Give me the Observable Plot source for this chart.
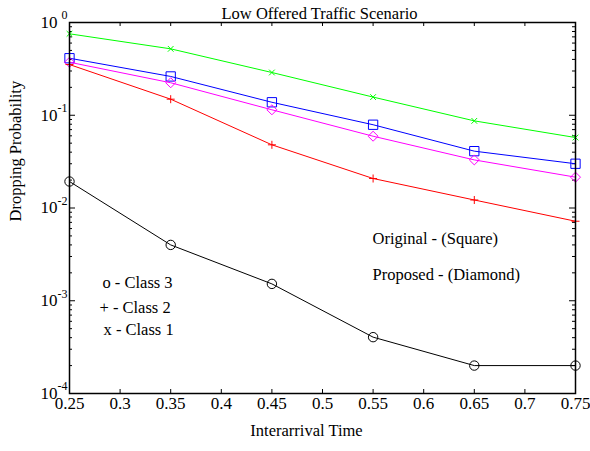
<!DOCTYPE html>
<html>
<head>
<meta charset="utf-8">
<script src="https://cdn.jsdelivr.net/npm/d3@7"></script>
<script src="https://cdn.jsdelivr.net/npm/@observablehq/plot@0.6"></script>
<style>
  html, body { margin: 0; padding: 0; background: #fff; }
  svg { display: block; }
</style>
</head>
<body>
<div id="chart"></div>
<script>
// ---- data ----
const interarrival = [0.25, 0.35, 0.45, 0.55, 0.65, 0.75];
const class1Green = [0.755, 0.52, 0.289, 0.157, 0.087, 0.0575];
const originalBlue = [0.412, 0.262, 0.138, 0.079, 0.041, 0.030];
const proposedMagenta = [0.373, 0.224, 0.1145, 0.0594, 0.033, 0.0215];
const class2Red = [0.352, 0.149, 0.048, 0.0208, 0.0122, 0.0072];
const class3Black = [0.0193, 0.0040, 0.00152, 0.000405, 0.0002, 0.0002];

const xTicks = [0.25, 0.3, 0.35, 0.4, 0.45, 0.5, 0.55, 0.6, 0.65, 0.7, 0.75];
const xTickLabels = ["0.25", "0.3", "0.35", "0.4", "0.45", "0.5", "0.55", "0.6", "0.65", "0.7", "0.75"];
const yTicks = [1, 0.1, 0.01, 0.001, 0.0001];
const yTickExponents = ["0", "-1", "-2", "-3", "-4"];
const yMinorTicks = [0.1, 0.01, 0.001, 0.0001].flatMap(d => [2, 3, 4, 5, 6, 7, 8, 9].map(k => k * d));

const titleText = "Low Offered Traffic Scenario";
const xLabel = "Interarrival Time";
const yLabel = "Dropping Probability";
const notes = [
  {text: "Original - (Square)", x: 0.5494, y: 0.00469},
  {text: "Proposed - (Diamond)", x: 0.5494, y: 0.00192},
  {text: "o - Class 3", x: 0.2826, y: 0.00157},
  {text: "+ - Class 2", x: 0.2796, y: 0.000846},
  {text: "x - Class 1", x: 0.2836, y: 0.00049}
];

const series = [
  {name: "class1", values: class1Green, color: "#00ff00", symbol: "times", r: 2.7},
  {name: "original", values: originalBlue, color: "#0000ff", symbol: "square", r: 5.25},
  {name: "proposed", values: proposedMagenta, color: "#ff00ff", symbol: "diamond2", r: 4.5},
  {name: "class2", values: class2Red, color: "#ff0000", symbol: "plus", r: 2.7},
  {name: "class3", values: class3Black, color: "#000000", symbol: "circle", r: 4.7}
];

const W = 590, H = 451;
const mTop = 22, mBottom = 58, mLeft = 69, mRight = 15;
const plotH = H - mTop - mBottom, plotW = W - mLeft - mRight;
const font = "'Liberation Serif', 'Times New Roman', serif";

const marks = [];
for (const s of series) {
  const rows = interarrival.map((x, i) => ({x, y: s.values[i]}));
  marks.push(Plot.line(rows, {x: "x", y: "y", stroke: s.color, strokeWidth: 1}));
  marks.push(Plot.dot(rows, {x: "x", y: "y", stroke: s.color, fill: "none", symbol: () => s.symbol, r: s.r, strokeWidth: 1}));
}

const chart = Plot.plot({
  width: W,
  height: H,
  marginTop: mTop,
  marginBottom: mBottom,
  marginLeft: mLeft,
  marginRight: mRight,
  style: {fontFamily: font, fontSize: "16px", background: "white", color: "black"},
  x: {domain: [0.25, 0.75], axis: null},
  y: {type: "log", domain: [1e-4, 1], axis: null},
  symbol: {type: "identity"},
  marks: [
    // ticks (inward)
    Plot.tickX(xTicks, {x: d => d, insetTop: plotH - 4, stroke: "black", strokeWidth: 1}),
    Plot.tickX(xTicks, {x: d => d, insetBottom: plotH - 4, stroke: "black", strokeWidth: 1}),
    Plot.tickY(yTicks, {y: d => d, insetRight: plotW - 6, stroke: "black", strokeWidth: 1}),
    Plot.tickY(yTicks, {y: d => d, insetLeft: plotW - 6, stroke: "black", strokeWidth: 1}),
    Plot.tickY(yMinorTicks, {y: d => d, insetRight: plotW - 3, stroke: "black", strokeWidth: 1}),
    Plot.tickY(yMinorTicks, {y: d => d, insetLeft: plotW - 3, stroke: "black", strokeWidth: 1}),
    ...marks,
    Plot.frame({stroke: "black", strokeWidth: 1.5}),
    // tick labels
    Plot.text(xTicks, {x: d => d, frameAnchor: "bottom", dy: 15, text: (d, i) => xTickLabels[i], fontSize: 17}),
    Plot.text(yTicks, {y: d => d, frameAnchor: "left", dx: -12, textAnchor: "end", text: () => "10", fontSize: 17}),
    Plot.text(yTicks, {y: d => d, frameAnchor: "left", dx: -2, dy: -7, textAnchor: "end", text: (d, i) => yTickExponents[i], fontSize: 12}),
    // annotations
    Plot.text(notes, {x: "x", y: "y", text: "text", textAnchor: "start", fontSize: 16.5}),
    // titles
    Plot.text([titleText], {frameAnchor: "top", dx: -3, dy: -15, text: d => d, fontSize: 16.5}),
    Plot.text([xLabel], {frameAnchor: "bottom", dx: -16, dy: 42, text: d => d, fontSize: 16.5}),
    Plot.text([yLabel], {frameAnchor: "left", dx: -54, dy: 13.5, rotate: -90, text: d => d, fontSize: 16.5})
  ]
});
document.getElementById("chart").appendChild(chart);
</script>
</body>
</html>
